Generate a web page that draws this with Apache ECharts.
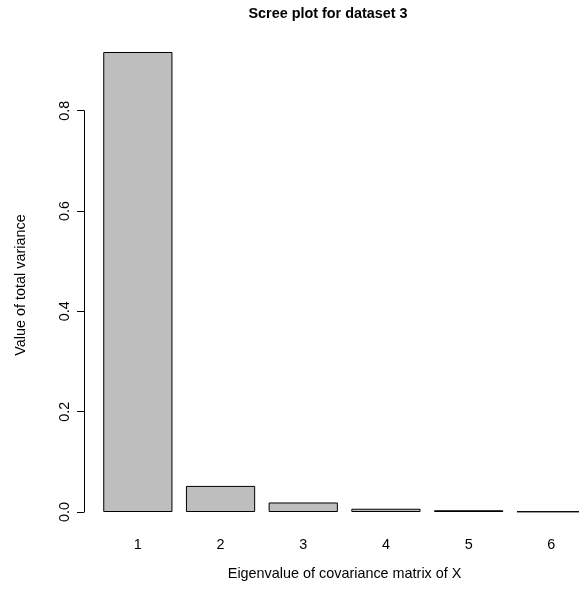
<!DOCTYPE html>
<html>
<head>
<meta charset="utf-8">
<script src="https://cdn.jsdelivr.net/npm/echarts@6/dist/echarts.min.js"></script>
<style>
  html, body { margin: 0; padding: 0; background: #fff; }
  #chart { width: 579px; height: 592px; }
</style>
</head>
<body>
<div id="chart"></div>
<script>
// Scree plot data
const components = ['1', '2', '3', '4', '5', '6']
const variance = [0.917, 0.052, 0.019, 0.0065, 0.0035, 0.001]
const yTicks = [0, 0.2, 0.4, 0.6, 0.8]

const titleText = 'Scree plot for dataset 3'
const xName = 'Eigenvalue of covariance matrix of X'
const yName = 'Value of total variance'

const font = '"Liberation Sans", Arial, Helvetica, sans-serif'
const fs = 14.4

const chart = echarts.init(document.getElementById('chart'))

const option = {
  backgroundColor: '#fff',
  animation: false,
  textStyle: { fontFamily: font },
  grid: {
    left: 96.5,
    width: 496.2,
    top: 110.7,
    bottom: 80,
    containLabel: false,
    outerBoundsMode: 'none',
  },
  xAxis: {
    type: 'category',
    data: components,
    axisLine: { show: false },
    axisTick: { show: false },
    splitLine: { show: false },
    axisLabel: { color: '#000', fontSize: fs, margin: 26, fontFamily: font },
    name: xName,
    nameLocation: 'middle',
    nameGap: 55,
    nameTextStyle: { color: '#000', fontSize: fs, fontFamily: font },
  },
  yAxis: {
    type: 'value',
    min: yTicks[0],
    max: yTicks[yTicks.length - 1],
    interval: 0.2,
    offset: 12.5,
    axisLine: { show: true, lineStyle: { color: '#000', width: 1 } },
    axisTick: { show: true, length: 7, lineStyle: { color: '#000', width: 1 } },
    splitLine: { show: false },
    axisLabel: {
      color: '#000',
      fontSize: fs,
      rotate: 90,
      margin: 12,
      fontFamily: font,
      formatter: (v) => v.toFixed(1),
    },
  },
  series: [
    {
      type: 'bar',
      data: variance,
      clip: false,
      barCategoryGap: '16.3%',
      itemStyle: { color: '#bebebe', borderColor: '#000', borderWidth: 1 },
      emphasis: { disabled: true },
    },
  ],
  graphic: [
    {
      type: 'text',
      x: 328,
      y: 14,
      style: {
        text: titleText,
        font: 'bold ' + fs + 'px ' + font,
        fill: '#000',
        textAlign: 'center',
        textVerticalAlign: 'middle',
      },
    },
    {
      type: 'text',
      x: 21,
      y: 285,
      rotation: Math.PI / 2,
      style: {
        text: yName,
        font: fs + 'px ' + font,
        fill: '#000',
        textAlign: 'center',
        textVerticalAlign: 'middle',
      },
    },
  ],
}

chart.setOption(option)
</script>
</body>
</html>
